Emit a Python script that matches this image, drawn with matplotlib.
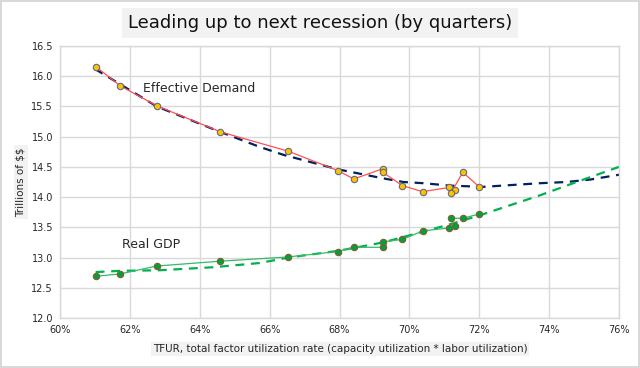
import matplotlib
matplotlib.use("Agg")
import matplotlib.pyplot as plt
from matplotlib.ticker import FuncFormatter

# TFUR (%) by quarter, connecting order as in the chart
tfur = [61.02, 61.73, 62.77, 64.59, 66.53, 67.95, 68.41, 69.24, 69.24,
        69.80, 70.38, 71.14, 71.31, 71.19, 71.53, 72.00]
eff_demand = [16.16, 15.84, 15.51, 15.08, 14.76, 14.44, 14.30, 14.47, 14.41,
              14.19, 14.09, 14.16, 14.11, 14.07, 14.41, 14.17]
real_gdp = [12.69, 12.73, 12.86, 12.94, 13.01, 13.10, 13.17, 13.17, 13.26,
            13.30, 13.44, 13.49, 13.53, 13.65, 13.65, 13.72]

# trend lines
ed_trend_x = [61.0, 62.77, 64.58, 65.72, 66.39, 67.95, 69.25, 69.83, 70.40,
              71.16, 72.12, 73.74, 74.50, 75.17, 76.0]
ed_trend_y = [16.12, 15.50, 15.08, 14.83, 14.70, 14.46, 14.31, 14.25, 14.23,
              14.19, 14.17, 14.23, 14.25, 14.29, 14.37]
gdp_trend_x = [61.02, 61.72, 62.86, 64.39, 65.72, 66.53, 67.95, 69.25, 69.83,
               71.16, 72.02, 73.74, 74.69, 76.0]
gdp_trend_y = [12.76, 12.78, 12.79, 12.84, 12.91, 13.00, 13.11, 13.25, 13.34,
               13.55, 13.70, 14.03, 14.23, 14.50]

grid_col = '#d9d9d9'
text_col = '#262626'

fig = plt.figure(figsize=(6.4, 3.68), dpi=100)
fig.patch.set_edgecolor('#d9d9d9')
fig.patch.set_linewidth(1.5)
ax = fig.add_axes([60 / 640, 1 - 318 / 368, 559 / 640, 272 / 368])

ax.plot(ed_trend_x, ed_trend_y, color='#002060', ls=(0, (4, 3)), lw=1.6, zorder=2)
ax.plot(gdp_trend_x, gdp_trend_y, color='#00b050', ls=(0, (4, 3)), lw=1.6, zorder=2)

ax.plot(tfur, eff_demand, color='#ff5050', lw=0.9, marker='o', ms=4.6,
        mfc='#ffc000', mec='#5f6b82', mew=0.8, zorder=3)
ax.plot(tfur, real_gdp, color='#33bb66', lw=0.9, marker='o', ms=4.6,
        mfc='#00a040', mec='#8a5a2b', mew=0.8, zorder=3)

ax.annotate('Effective Demand', xy=(143, 368 - 88), xycoords='figure pixels',
            va='center', ha='left', fontsize=9, color=text_col)
ax.annotate('Real GDP', xy=(122, 368 - 244), xycoords='figure pixels',
            va='center', ha='left', fontsize=9, color=text_col)

ax.set_xlim(60, 76)
ax.set_ylim(12.0, 16.5)
ax.set_xticks(range(60, 77, 2))
ax.set_yticks([12.0 + 0.5 * i for i in range(10)])
ax.xaxis.set_major_formatter(FuncFormatter(lambda v, p: '%d%%' % v))
ax.yaxis.set_major_formatter(FuncFormatter(lambda v, p: '%.1f' % v))
ax.tick_params(length=0, labelsize=7, colors=text_col, pad=5)
ax.grid(True, color=grid_col, lw=1)
ax.set_axisbelow(True)
for s in ax.spines.values():
    s.set_color(grid_col)
    s.set_linewidth(1)

fig.text(320 / 640, 1 - 23 / 368, 'Leading up to next recession (by quarters)',
         ha='center', va='center', fontsize=13, color='#111111',
         bbox=dict(facecolor='#f2f2f2', edgecolor='none', pad=4))
fig.text(340 / 640, 1 - 349 / 368,
         'TFUR, total factor utilization rate (capacity utilization * labor utilization)',
         ha='center', va='center', fontsize=7.5, color=text_col,
         bbox=dict(facecolor='#f2f2f2', edgecolor='none', pad=1.5))
fig.text(21 / 640, 1 - 182 / 368, r'Trillions of \$\$', rotation=90,
         ha='center', va='center', fontsize=7.5, color=text_col,
         bbox=dict(facecolor='#f2f2f2', edgecolor='none', pad=1.5))

fig.savefig('out.png', dpi=100, edgecolor=fig.get_edgecolor())
